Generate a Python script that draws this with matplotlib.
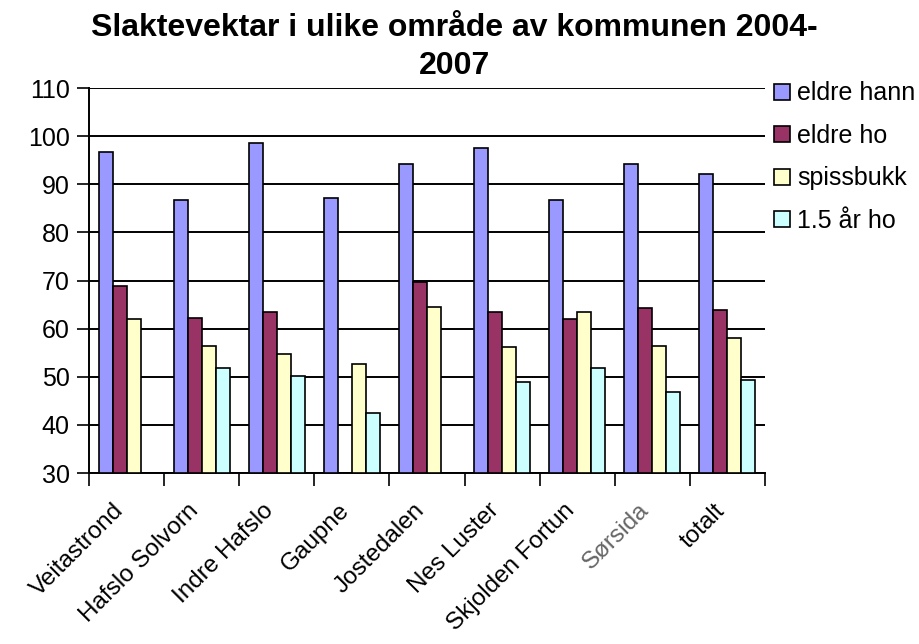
import numpy as np
import matplotlib
matplotlib.use('Agg')
import matplotlib.pyplot as plt
from matplotlib.transforms import ScaledTranslation

plt.rcParams['font.family'] = ['Liberation Sans', 'DejaVu Sans']

# data
areas = ['Veitastrond', 'Hafslo Solvorn', 'Indre Hafslo', 'Gaupne', 'Jostedalen',
         'Nes Luster', 'Skjolden Fortun', 'Sørsida', 'totalt']
series_names = ['eldre hann', 'eldre ho', 'spissbukk', '1.5 år ho']
eldre_hann = [96.8, 86.8, 98.5, 87.2, 94.2, 97.5, 86.8, 94.2, 92.2]
eldre_ho = [68.9, 62.3, 63.5, np.nan, 69.7, 63.5, 62.0, 64.2, 63.9]
spissbukk = [62.0, 56.4, 54.7, 52.7, 64.6, 56.1, 63.5, 56.4, 58.0]
ar_ho = [np.nan, 51.8, 50.2, 42.4, np.nan, 49.0, 51.8, 46.8, 49.3]
colors = ['#9999FF', '#993366', '#FFFFCC', '#CCFFFF']

fig = plt.figure(figsize=(9.2, 6.44), dpi=100)
ax = fig.add_axes([0.0967, 0.2655, 0.7348, 0.5978])

x = np.arange(len(areas))
width = 0.1865
all_series = [eldre_hann, eldre_ho, spissbukk, ar_ho]
for i, (vals, name, col) in enumerate(zip(all_series, series_names, colors)):
    offset = (i - 1.5) * width
    ax.bar(x + offset, np.array(vals) - 30, bottom=30, width=width, color=col,
           edgecolor='black', linewidth=1.2, label=name, zorder=3)

ax.set_xlim(-0.5, len(areas) - 0.5)
ax.set_ylim(30, 110)
ax.set_yticks(np.arange(30, 111, 10))
ax.tick_params(axis='y', labelsize=18, length=9, width=1.2, direction='out', pad=5)
ax.yaxis.grid(True, color='black', linewidth=1.4, zorder=0)
ax.set_axisbelow(True)

ax.set_xticks(x)
ax.set_xticklabels(areas, rotation=45, ha='right', va='top', rotation_mode='anchor', fontsize=17.5)
ax.tick_params(axis='x', which='major', length=0, pad=14)
ax.set_xticks(np.arange(-0.5, len(areas), 1), minor=True)
ax.tick_params(axis='x', which='minor', length=9, width=1.2, direction='out')
shift = ScaledTranslation(-0.14, -0.07, fig.dpi_scale_trans)
for lab in ax.get_xticklabels():
    lab.set_transform(lab.get_transform() + shift)
ax.get_xticklabels()[7].set_color('#666666')

for s in ['top', 'right']:
    ax.spines[s].set_visible(False)
for s in ['left', 'bottom']:
    ax.spines[s].set_linewidth(1.4)

fig.text(0.494, 0.980, 'Slaktevektar i ulike område av kommunen 2004-\n2007',
         ha='center', va='top', fontsize=23, fontweight='bold', linespacing=1.36)

ax.legend(loc='upper left', bbox_to_anchor=(0.8413, 0.8736), bbox_transform=fig.transFigure,
          frameon=False, fontsize=18, handlelength=0.65, handleheight=0.6,
          handletextpad=0.28, labelspacing=0.74, borderaxespad=0, borderpad=0)

fig.savefig('out.png', dpi=100)
